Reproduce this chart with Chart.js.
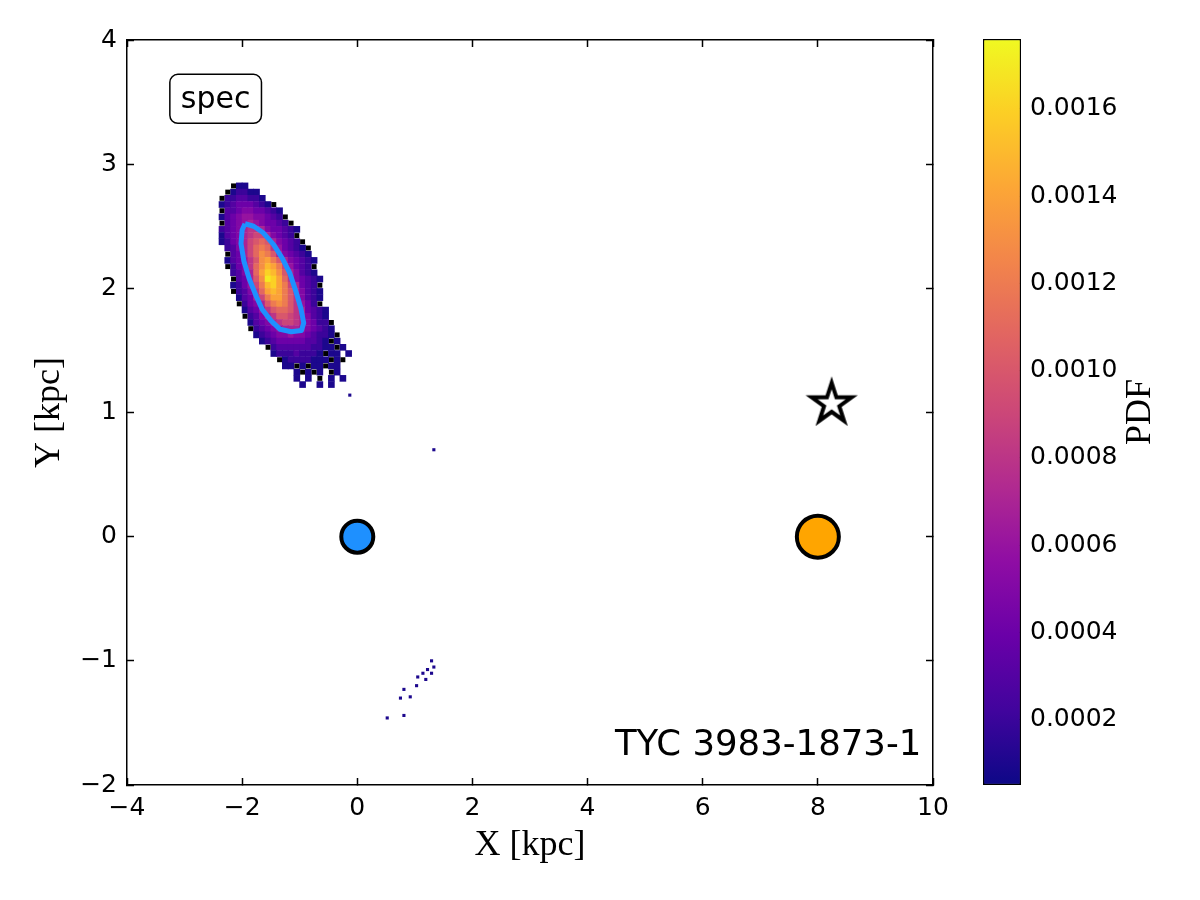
<!DOCTYPE html>
<html><head><meta charset="utf-8">
<script src="https://cdn.jsdelivr.net/npm/chart.js@4.4.0/dist/chart.umd.min.js"></script>
<style>
html,body{margin:0;padding:0;background:#fff;}
#wrap{position:relative;width:1200px;height:900px;background:#fff;}
#main{position:absolute;left:0;top:0;}
#cbar{position:absolute;left:960px;top:0;}
</style></head><body>
<div id="wrap"><canvas id="main" width="1000" height="900"></canvas><canvas id="cbar" width="240" height="900"></canvas></div>
<script>
// ---------------- data ----------------
const xTicks = [-4, -2, 0, 2, 4, 6, 8, 10];
const yTicks = [-2, -1, 0, 1, 2, 3, 4];
const cbTicks = [0.0002, 0.0004, 0.0006, 0.0008, 0.0010, 0.0012, 0.0014, 0.0016];
const cbMin = 0.00005;
const cbMax = 0.00176;

// 2D histogram (PDF), cell centres: x = gridX0 + i*gridDX, y = gridY0 - j*gridDY
const gridX0 = -2.35, gridDX = 0.1;
const gridY0 = 2.825, gridDY = 0.05;
const levelChars  = '123456789abcdefgh';
const levelValues = [0.0001,0.0002,0.0003,0.0004,0.0005,0.0006,0.0007,0.0008,0.0009,
                     0.0010,0.0011,0.0012,0.0013,0.0014,0.0015,0.0016,0.0017];
// '.' empty, '#' black outlier cell
const densityRows = [
"..#11",
".#12211",
"#2233221",
"123444321#",
"#3345544321",
"13456655432#",
"#34567654432#",
"23457887544321",
"1345789975432#",
"124579aba75432#",
".23579bcb864321#",
".#3479bdca754321",
".13468adeca754321",
".#2458bdfec96432#",
"..2357begfda75321",
"..#347adhgeb854321",
"..12469cfgec97432#",
"..#2358befeca75321",
"...13479ceeca85321",
"...#2457acdca8642#",
"....13468abba874321",
"....#23578aa9875321",
".....13457899875422#",
".....#23456777654321",
"......12345565543221#",
".......123444443321#1",
"........#23333332211#1",
".........122232221#11.1",
"..........#12222111#1#",
"...........11#1#11#11",
".............1#1#1.#1",
".............1.1.#.1.1",
"..............1..1.1"
];
// isolated low-density cells
const strayX = [-0.13, 1.33, 1.29, 1.33, 1.22, 1.14, 1.29, 1.05, 1.19, 1.03, 0.81, 0.92, 0.75, 0.81, 0.52];
const strayY = [ 1.14, 0.70,-1.00,-1.05,-1.07,-1.10,-1.10,-1.13,-1.15,-1.20,-1.23,-1.29,-1.30,-1.44,-1.46];

// 1-sigma contour
const contourX = [-1.95,-1.80,-1.64,-1.45,-1.30,-1.17,-1.07,-0.98,-0.93,-0.97,-1.15,-1.34,-1.50,-1.65,-1.75,-1.88,-1.97,-2.02,-2.00,-1.95];
const contourY = [ 2.52, 2.50, 2.45, 2.35, 2.24, 2.12, 1.98, 1.84, 1.72, 1.66, 1.65, 1.67, 1.74, 1.83, 1.93, 2.08, 2.22, 2.36, 2.47, 2.52];

// markers
const blueX = [0], blueY = [0];
const orangeX = [8], orangeY = [0];
const starX = [8.24], starY = [1.07];

const panelLabel = 'spec';
const starName = 'TYC 3983-1873-1';

// ---------------- helpers ----------------
const plasmaStops = ['#0d0887','#41049d','#6a00a8','#8f0da4','#b12a90','#cc4778','#e16462','#f2844b','#fca636','#fcce25','#f0f921'];
function hex2rgb(h){return [parseInt(h.slice(1,3),16),parseInt(h.slice(3,5),16),parseInt(h.slice(5,7),16)];}
const plasmaRGB = plasmaStops.map(hex2rgb);
function plasma(t){
  t = Math.max(0, Math.min(1, t));
  const p = t*(plasmaRGB.length-1), k = Math.min(Math.floor(p), plasmaRGB.length-2), f = p-k;
  const a = plasmaRGB[k], b = plasmaRGB[k+1];
  return 'rgb('+[0,1,2].map(q=>Math.round(a[q]+(b[q]-a[q])*f)).join(',')+')';
}
function colorFor(v){ return plasma((v-cbMin)/(cbMax-cbMin)); }

const heatPts = [], heatCols = [], blackPts = [];
densityRows.forEach((row, j) => {
  for (let i = 0; i < row.length; i++) {
    const ch = row[i];
    const x = +(gridX0 + i*gridDX).toFixed(4), y = +(gridY0 - j*gridDY).toFixed(4);
    if (ch === '#') blackPts.push({x, y});
    else if (ch !== '.') {
      const v = levelValues[levelChars.indexOf(ch)];
      heatPts.push({x, y}); heatCols.push(colorFor(v));
    }
  }
});
const strayPts = strayX.map((x,k)=>({x, y: strayY[k]}));
const contourPts = contourX.map((x,k)=>({x, y: contourY[k]}));
const toPts = (xs, ys) => xs.map((x,k)=>({x, y: ys[k]}));

function cellRadius(ctx){
  const c = ctx.chart, sx = c.scales.x, sy = c.scales.y;
  if (!sx || !sy) return 4;
  const w = Math.abs(sx.getPixelForValue(gridDX) - sx.getPixelForValue(0));
  const h = Math.abs(sy.getPixelForValue(gridDY) - sy.getPixelForValue(0));
  return Math.max(w, h)/Math.SQRT2 + 0.3;
}

function makeStar(){
  const R = 21, r = R*0.381966, size = 72;
  const c = document.createElement('canvas'); c.width = size; c.height = size;
  const g = c.getContext('2d'); const cx = size/2, cy = size/2;
  g.beginPath();
  for (let k = 0; k < 10; k++) {
    const ang = -Math.PI/2 + k*Math.PI/5, rad = (k%2===0) ? R : r;
    const px = cx + rad*Math.cos(ang), py = cy + rad*Math.sin(ang);
    if (k) g.lineTo(px, py); else g.moveTo(px, py);
  }
  g.closePath(); g.fillStyle = '#fff'; g.fill();
  g.lineWidth = 4; g.lineJoin = 'miter'; g.strokeStyle = '#000'; g.stroke();
  return c;
}

const fmt = v => String(v).replace('-', '\u2212');
Chart.defaults.font.family = '"DejaVu Sans"';
Chart.defaults.color = '#000';

const tickFont = {family:'"DejaVu Sans"', size:25};
const gridIn = {drawOnChartArea:false, tickLength:-7, tickWidth:1.5, tickColor:'#000'};
const borderK = {display:true, color:'#000', width:1.5};

const annot = {
  id: 'annot',
  afterDraw(chart){
    const {ctx, chartArea:a} = chart; const w = a.right-a.left, h = a.bottom-a.top;
    ctx.save();
    // panel label box
    ctx.font = '30px "DejaVu Sans"';
    const cx = a.left + 0.11*w, cy = a.top + 0.079*h;
    const tw = ctx.measureText(panelLabel).width;
    const bw = tw + 22, bh = 49;
    ctx.beginPath();
    ctx.roundRect(cx - bw/2, cy - bh/2, bw, bh, 8);
    ctx.fillStyle = '#fff'; ctx.fill();
    ctx.lineWidth = 1.5; ctx.strokeStyle = '#000'; ctx.stroke();
    ctx.fillStyle = '#000'; ctx.textAlign = 'center'; ctx.textBaseline = 'middle';
    ctx.fillText(panelLabel, cx, cy + 1);
    // star name
    ctx.font = '35.5px "DejaVu Sans"';
    ctx.textAlign = 'right'; ctx.textBaseline = 'alphabetic';
    ctx.fillText(starName, a.left + 0.9855*w, a.top + 0.96*h);
    ctx.restore();
  }
};

new Chart(document.getElementById('main'), {
  type: 'scatter',
  data: { datasets: [
    { label:'pdf', data: heatPts, backgroundColor: heatCols, pointStyle:'rect', pointRadius: cellRadius,
      pointBorderWidth:0, borderWidth:0, order:10, xAxisID:'x', yAxisID:'y' },
    { label:'low', data: blackPts, backgroundColor:'#000', pointStyle:'rect', pointRadius:3.5,
      pointBorderWidth:0, borderWidth:0, order:9, xAxisID:'x', yAxisID:'y' },
    { label:'stray', data: strayPts, backgroundColor: colorFor(levelValues[0]), pointStyle:'rect', pointRadius:2.2,
      pointBorderWidth:0, borderWidth:0, order:8, xAxisID:'x', yAxisID:'y' },
    { label:'contour', data: contourPts, showLine:true, borderColor:'#1e90ff', borderWidth:5, pointRadius:0,
      borderJoinStyle:'round', fill:false, tension:0, order:5, xAxisID:'x', yAxisID:'y' },
    { label:'blue', data: toPts(blueX, blueY), backgroundColor:'#1e90ff', borderColor:'#000', pointRadius:16,
      pointBorderWidth:4, order:2, xAxisID:'x', yAxisID:'y' },
    { label:'orange', data: toPts(orangeX, orangeY), backgroundColor:'#ffa500', borderColor:'#000', pointRadius:21,
      pointBorderWidth:4, order:2, xAxisID:'x', yAxisID:'y' },
    { label:'star', data: toPts(starX, starY), pointStyle: makeStar(), pointRadius:26, order:1, xAxisID:'x', yAxisID:'y' }
  ]},
  options: {
    responsive:false, animation:false, events:[], devicePixelRatio:1,
    layout:{padding:0},
    plugins:{legend:{display:false}, tooltip:{enabled:false}},
    scales: {
      x: { type:'linear', position:'bottom', min:-4, max:10,
        afterBuildTicks: s => { s.ticks = xTicks.map(v=>({value:v})); },
        afterFit: s => { s.height = 115; },
        ticks:{font:tickFont, color:'#000', padding:15, autoSkip:false, maxRotation:0, callback: v => fmt(v)},
        grid: gridIn, border: borderK,
        title:{display:true, text:'X [kpc]', color:'#000', font:{family:'"Liberation Serif"', size:36}, padding:{top:0, bottom:33}}
      },
      x2: { type:'linear', axis:'x', position:'top', min:-4, max:10,
        afterBuildTicks: s => { s.ticks = xTicks.map(v=>({value:v})); },
        afterFit: s => { s.height = 40; },
        ticks:{display:false}, grid: gridIn, border: borderK
      },
      y: { type:'linear', position:'left', min:-2, max:4,
        afterBuildTicks: s => { s.ticks = yTicks.map(v=>({value:v})); },
        afterFit: s => { s.width = 127; },
        ticks:{font:tickFont, color:'#000', padding:17, autoSkip:false, callback: v => fmt(v)},
        grid: gridIn, border: borderK,
        title:{display:true, text:'Y [kpc]', color:'#000', font:{family:'"Liberation Serif"', size:36}, padding:{top:28, bottom:0}}
      },
      y2: { type:'linear', axis:'y', position:'right', min:-2, max:4,
        afterBuildTicks: s => { s.ticks = yTicks.map(v=>({value:v})); },
        afterFit: s => { s.width = 67; },
        ticks:{display:false}, grid: gridIn, border: borderK
      }
    }
  },
  plugins:[annot]
});

// ---------------- colorbar ----------------
const cbLabel = {
  id:'cbLabel',
  afterDraw(chart){
    const {ctx, chartArea:a} = chart;
    ctx.save();
    ctx.translate(a.right + 120, (a.top + a.bottom)/2);
    ctx.rotate(-Math.PI/2);
    ctx.font = '36px "Liberation Serif"'; ctx.fillStyle = '#000';
    ctx.textAlign = 'center'; ctx.textBaseline = 'middle';
    ctx.fillText('PDF', 0, 0);
    ctx.restore();
  }
};
new Chart(document.getElementById('cbar'), {
  type:'bar',
  data:{ labels:['PDF'], datasets:[{ data:[[cbMin, cbMax]],
    backgroundColor: (ctx) => {
      const a = ctx.chart.chartArea; if (!a) return plasmaStops[5];
      const g = ctx.chart.ctx.createLinearGradient(0, a.bottom, 0, a.top);
      plasmaStops.forEach((c,k)=>g.addColorStop(k/(plasmaStops.length-1), c));
      return g;
    },
    borderColor:'#000', borderWidth:1.5, borderSkipped:false, barPercentage:1, categoryPercentage:1 }]},
  options:{
    responsive:false, animation:false, events:[], devicePixelRatio:1,
    layout:{padding:{left:23, top:39, bottom:115, right:0}},
    plugins:{legend:{display:false}, tooltip:{enabled:false}},
    scales:{
      x:{display:false},
      y:{ position:'right', min:cbMin, max:cbMax,
        afterBuildTicks: s => { s.ticks = cbTicks.map(v=>({value:v})); },
        afterFit: s => { s.width = 179; },
        ticks:{font:tickFont, color:'#000', padding:17, autoSkip:false, callback: v => v.toFixed(4)},
        grid:{drawOnChartArea:false, tickLength:-8, tickWidth:1.2, tickColor:'#000'},
        border:{display:false}
      }
    }
  },
  plugins:[cbLabel]
});
</script></body></html>
